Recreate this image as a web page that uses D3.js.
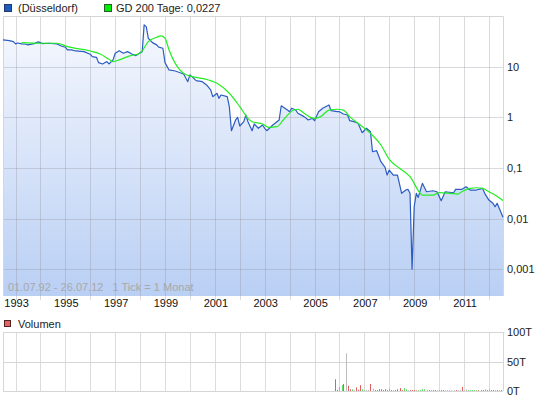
<!DOCTYPE html>
<html>
<head>
<meta charset="utf-8">
<script src="https://cdn.jsdelivr.net/npm/d3@7"></script>
<style>
    body { margin: 0; background: #fff; }
    svg { display: block; font-family: "Liberation Sans", Arial, sans-serif; }
</style>
</head>
<body>
<div id="chart"></div>
<script>
// kurs (monatlich)
const priceDates = ["1992-07","1992-09","1992-10","1992-12","1993-01","1993-02","1993-04","1993-06","1993-07","1993-10","1993-12","1994-02","1994-05",
    "1994-09","1994-11","1995-01","1995-02","1995-04","1995-06","1995-10","1996-01","1996-02","1996-04",
    "1996-05","1996-07","1996-09","1996-10","1996-12","1997-01","1997-03","1997-05","1997-07","1997-09",
    "1997-11","1998-01","1998-02","1998-03","1998-04","1998-05","1998-07","1998-09","1998-10","1998-12",
    "1999-01","1999-03","1999-06","1999-10","1999-12","2000-01","2000-02","2000-04","2000-07","2000-09",
    "2000-11","2000-12","2001-02","2001-03","2001-04","2001-07","2001-08","2001-09","2001-11","2001-12",
    "2002-01","2002-03","2002-04","2002-05","2002-07","2002-08","2002-10","2002-12","2003-01","2003-02",
    "2003-05","2003-08","2003-09","2003-12","2004-01","2004-02","2004-04","2004-05","2004-08","2004-10",
    "2004-12","2005-01","2005-03","2005-05","2005-08","2005-09","2005-12","2006-01","2006-03","2006-05",
    "2006-06","2006-08","2006-10","2006-12","2007-02","2007-04","2007-05","2007-07","2007-09","2007-11",
    "2007-12","2008-01","2008-03","2008-05","2008-07","2008-09","2008-10","2008-11","2008-12","2009-01",
    "2009-02","2009-03","2009-05","2009-07","2009-10","2009-12","2010-02","2010-04","2010-08","2010-09",
    "2010-12","2011-02","2011-04","2011-07","2011-10","2011-11","2012-01","2012-03","2012-04","2012-05",
    "2012-07-26"];
const priceValues = [33.7, 33.0, 32.7, 31.2, 28.1, 29.3, 28.1, 27.7, 26.9, 28.5, 30.8, 28.5, 29.0,
    28.1, 25.6, 24.2, 21.4, 21.4, 20.4, 19.8, 17.6, 15.8, 15.3,
    12.0, 11.3, 12.6, 11.3, 13.6, 18.4, 20.7, 18.4, 19.8, 17.8,
    16.5, 18.9, 19.8, 66.7, 61.7, 36.4, 29.8, 26.9, 24.2, 23.1,
    12.0, 8.61, 8.2, 7.17, 5.05, 6.86, 6.35, 5.29, 5.05, 4.35,
    3.46, 2.55, 2.98, 2.37, 2.76, 2.55, 1.62, 0.543, 0.885, 1.00,
    0.673, 0.819, 1.11, 0.819, 0.543, 0.738, 0.607, 0.705, 0.607, 0.543,
    0.705, 0.885, 1.69, 1.39, 1.29, 1.51, 1.39, 1.20, 1.03, 0.885,
    0.955, 0.857, 1.29, 1.51, 1.75, 1.35, 1.29, 1.29, 1.16, 1.11,
    0.857, 0.819, 0.761, 0.496, 0.607, 0.519, 0.209, 0.219, 0.133, 0.103,
    0.0724, 0.0908, 0.0724, 0.0724, 0.0315, 0.0366, 0.0378, 0.0315, 0.001, 0.0171,
    0.0315, 0.0262, 0.0496, 0.0339, 0.0354, 0.0339, 0.0225, 0.0339, 0.0324, 0.0378,
    0.0378, 0.0425, 0.0366, 0.0366, 0.0395, 0.0315, 0.0232, 0.0200, 0.0171, 0.0200,
    0.0106];

// GD 200 Tage
const avgDates = ["1993-04","1994-01","1994-09","1995-02","1996-01","1996-06","1996-10","1996-12","1997-03","1997-08",
    "1998-01","1998-05","1998-09","1998-11","1999-01","1999-03","1999-07","1999-11","2000-10","2001-02",
    "2001-08","2002-01","2002-05","2002-07","2002-12","2003-03","2003-07","2003-10","2004-03","2004-05",
    "2004-08","2005-01","2005-04","2005-08","2005-12","2006-03","2006-06","2006-11","2007-04","2007-09",
    "2008-01","2008-06","2008-11","2009-04","2009-05","2009-10","2010-01","2010-06","2010-10","2010-12",
    "2011-04","2011-07","2011-10","2012-01","2012-04","2012-07-26"];
const avgValues = [29.8, 29.0, 29.0, 24.8, 20.4, 17.6, 14.0, 12.6, 13.6, 16.3,
    18.4, 31.2, 38.1, 40.4, 36.4, 21.4, 10.0, 7.0, 5.46, 4.70,
    2.98, 1.62, 0.955, 0.819, 0.738, 0.634, 0.652, 0.885, 1.39, 1.44,
    1.20, 0.955, 1.03, 1.39, 1.44, 1.39, 1.03, 0.705, 0.483, 0.284,
    0.148, 0.0982, 0.0670, 0.0315, 0.0291, 0.0291, 0.0324, 0.0315, 0.0305, 0.0339,
    0.0395, 0.0406, 0.0395, 0.0339, 0.0291, 0.0227];

// volumen in tausend, r = minus, g = plus, n = unveraendert
const volMonths = ["2005-11","2005-12","2006-01","2006-02","2006-03","2006-04","2006-05","2006-06","2006-07","2006-08",
    "2006-09","2006-10","2006-11","2006-12","2007-01","2007-02","2007-03","2007-04","2007-05","2007-06",
    "2007-07","2007-08","2007-09","2007-10","2007-11","2007-12","2008-01","2008-02","2008-03","2008-04",
    "2008-05","2008-06","2008-07","2008-08","2008-09","2008-10","2008-11","2008-12","2009-01","2009-02",
    "2009-03","2009-04","2009-05","2009-06","2009-07","2009-08","2009-09","2009-10","2009-11","2009-12",
    "2010-01","2010-02","2010-03","2010-04","2010-05","2010-06","2010-07","2010-08","2010-09","2010-10",
    "2010-11","2010-12","2011-01","2011-02","2011-03","2011-04","2011-05","2011-06","2011-07","2011-08",
    "2011-09","2011-10","2011-11","2011-12","2012-01","2012-02","2012-03","2012-04","2012-05","2012-06",
    "2012-07"];
const volValues = [20, 2, 7, 10, 12, 64, 9, 3, 3, 1,
    6, 2, 10, 3, 1, 2, 1, 12, 4, 1.5,
    1.5, 3, 3, 1.5, 3, 1.5, 4, 1.5, 1.5, 1.5,
    3, 5, 1.5, 5, 3, 1.5, 1.5, 1.5, 1.5, 1,
    1.5, 1.5, 3, 3, 1.5, 1.5, 1.5, 1.5, 1.5, 1.5,
    1, 1.5, 1.5, 1.5, 1.5, 1.5, 1.5, 1.5, 1.5, 1.5,
    1.5, 7, 1.5, 3, 1.5, 1.5, 1.5, 1.5, 1.5, 1.5,
    1.5, 1.5, 3, 1.5, 3, 1.5, 1.5, 1.5, 1.5, 1.5,
    1.5];
const volDir = ["r","r","g","g","r","n","r","r","g","n",
    "r","r","r","g","g","n","r","r","n","r",
    "r","r","r","r","r","r","g","r","g","r",
    "r","r","r","g","g","n","r","r","r","r",
    "g","g","g","g","g","r","g","r","r","n",
    "r","r","r","n","n","n","n","n","r","n",
    "n","r","n","n","g","g","g","g","g","r",
    "r","r","g","r","g","r","r","g","r","g",
    "r"];

const yearGrid = d3.range(1993, 2013);
const yearLabels = [1993, 1995, 1997, 1999, 2001, 2003, 2005, 2007, 2009, 2011];
const yTicks = [10, 1, 0.1, 0.01, 0.001];
const yTickLabels = ["10", "1", "0,1", "0,01", "0,001"];
const volTicks = [0, 50, 100];
const volTickLabels = ["0T", "50T", "100T"];

const width = 545, height = 401;
const plot = { left: 3, right: 503, top: 16, bottom: 296 };
const volPlot = { top: 332, bottom: 391 };

const parseDate = s => s.length > 7 ? d3.timeParse("%Y-%m-%d")(s) : d3.timeParse("%Y-%m")(s);

let svg = d3.select("#chart").append("svg")
    .attr("width", width)
    .attr("height", height);

let x = d3.scaleTime()
    .domain([new Date(1992, 6, 1), new Date(2012, 6, 26)])
    .range([plot.left, plot.right]);

let y = d3.scaleLog()
    .domain([0.000296, 100])
    .range([plot.bottom, plot.top]);

let yVol = d3.scaleLinear()
    .domain([0, 100])
    .range([volPlot.bottom, volPlot.top]);

let price = priceDates.map((d, i) => ({ date: parseDate(d), value: priceValues[i] }));
let avg = avgDates.map((d, i) => ({ date: parseDate(d), value: avgValues[i] }));

let grad = svg.append("defs").append("linearGradient")
    .attr("id", "fillGrad")
    .attr("gradientUnits", "userSpaceOnUse")
    .attr("x1", 0).attr("x2", 0)
    .attr("y1", plot.top).attr("y2", plot.bottom);
grad.append("stop").attr("offset", "0%").attr("stop-color", "#f7f9fe");
grad.append("stop").attr("offset", "100%").attr("stop-color", "#b9cff4");

// area under price
let area = d3.area()
    .x(d => x(d.date))
    .y0(plot.bottom)
    .y1(d => y(d.value));

svg.append("path")
    .datum(price)
    .attr("d", area)
    .attr("fill", "url(#fillGrad)");

// grid main
let grid = svg.append("g").attr("class", "grid");
grid.selectAll(".vgrid")
    .data(yearGrid)
    .enter().append("line")
    .attr("x1", d => Math.round(x(new Date(d, 0, 1))) + 0.5)
    .attr("x2", d => Math.round(x(new Date(d, 0, 1))) + 0.5)
    .attr("y1", plot.top)
    .attr("y2", plot.bottom + 4)
    .attr("stroke", "rgba(150,150,160,0.35)");
grid.selectAll(".hgrid")
    .data(yTicks)
    .enter().append("line")
    .attr("x1", plot.left)
    .attr("x2", plot.right)
    .attr("y1", d => Math.round(y(d)) + 0.5)
    .attr("y2", d => Math.round(y(d)) + 0.5)
    .attr("stroke", "rgba(150,150,160,0.35)");
svg.append("path")
    .attr("d", `M${plot.left + 0.5},${plot.bottom}V${plot.top + 0.5}H${plot.right + 0.5}V${plot.bottom}`)
    .attr("fill", "none")
    .attr("stroke", "#d6d6d6");

// lines
let line = d3.line()
    .x(d => x(d.date))
    .y(d => y(d.value));

svg.append("path")
    .datum(price)
    .attr("d", line)
    .attr("fill", "none")
    .attr("stroke", "#2b5cc2")
    .attr("stroke-width", 1.2)
    .attr("stroke-linejoin", "round");

svg.append("path")
    .datum(avg)
    .attr("d", line.curve(d3.curveMonotoneX))
    .attr("fill", "none")
    .attr("stroke", "#22ee22")
    .attr("stroke-width", 1.2);

// y labels
svg.selectAll(".ylab")
    .data(yTicks)
    .enter().append("text")
    .attr("x", 507)
    .attr("y", d => y(d) + 4)
    .attr("font-size", "11px")
    .attr("fill", "#222")
    .text((d, i) => yTickLabels[i]);

// x labels
svg.selectAll(".xlab")
    .data(yearLabels)
    .enter().append("text")
    .attr("x", d => x(new Date(d, 0, 1)) + 1)
    .attr("y", 307)
    .attr("text-anchor", "middle")
    .attr("font-size", "11px")
    .attr("fill", "#111")
    .text(d => d);

svg.append("text")
    .attr("x", 8)
    .attr("y", 291)
    .attr("font-size", "11px")
    .attr("fill", "#a8a8a8")
    .attr("xml:space", "preserve")
    .text("01.07.92 - 26.07.12   1 Tick = 1 Monat");

// legend
svg.append("rect").attr("x", 4.5).attr("y", 4.5).attr("width", 7).attr("height", 7)
    .attr("fill", "#1f5cc0").attr("stroke", "#243a66");
svg.append("text").attr("x", 18).attr("y", 12).attr("font-size", "11px").attr("fill", "#222")
    .text("(Düsseldorf)");
svg.append("rect").attr("x", 104.5).attr("y", 4.5).attr("width", 7).attr("height", 7)
    .attr("fill", "#00ee00").attr("stroke", "#2a5a2a");
svg.append("text").attr("x", 116).attr("y", 12).attr("font-size", "11px").attr("fill", "#222")
    .text("GD 200 Tage: " + d3.format(".4f")(avgValues[avgValues.length - 1]).replace(".", ","));

// volume panel
svg.append("rect").attr("x", 4.5).attr("y", 320.5).attr("width", 6).attr("height", 6)
    .attr("fill", "#e06666").attr("stroke", "#552222");
svg.append("text").attr("x", 18).attr("y", 328).attr("font-size", "11px").attr("fill", "#222")
    .text("Volumen");

let vgrid = svg.append("g");
vgrid.selectAll("line.v")
    .data(yearGrid)
    .enter().append("line")
    .attr("x1", d => Math.round(x(new Date(d, 0, 1))) + 0.5)
    .attr("x2", d => Math.round(x(new Date(d, 0, 1))) + 0.5)
    .attr("y1", volPlot.top)
    .attr("y2", volPlot.bottom)
    .attr("stroke", "#dcdcdc");
vgrid.selectAll("line.h")
    .data(volTicks)
    .enter().append("line")
    .attr("x1", plot.left)
    .attr("x2", plot.right)
    .attr("y1", d => Math.round(yVol(d)) + 0.5)
    .attr("y2", d => Math.round(yVol(d)) + 0.5)
    .attr("stroke", "#d6d6d6");
vgrid.append("line")
    .attr("x1", plot.left + 0.5).attr("x2", plot.left + 0.5)
    .attr("y1", volPlot.top).attr("y2", volPlot.bottom)
    .attr("stroke", "#d6d6d6");
vgrid.append("line")
    .attr("x1", plot.right + 0.5).attr("x2", plot.right + 0.5)
    .attr("y1", volPlot.top).attr("y2", volPlot.bottom)
    .attr("stroke", "#d6d6d6");

const dirColor = { r: "#e06060", g: "#66dd66", n: "#bdbdbd" };
svg.selectAll(".vol")
    .data(volMonths)
    .enter().append("rect")
    .attr("x", d => Math.round(x(parseDate(d))))
    .attr("width", 1)
    .attr("y", (d, i) => yVol(volValues[i]))
    .attr("height", (d, i) => yVol(0) - yVol(volValues[i]))
    .attr("fill", (d, i) => dirColor[volDir[i]]);

svg.selectAll(".vlab")
    .data(volTicks)
    .enter().append("text")
    .attr("x", 507)
    .attr("y", d => yVol(d) + 4)
    .attr("font-size", "11px")
    .attr("fill", "#222")
    .text((d, i) => volTickLabels[i]);
</script>
</body>
</html>
